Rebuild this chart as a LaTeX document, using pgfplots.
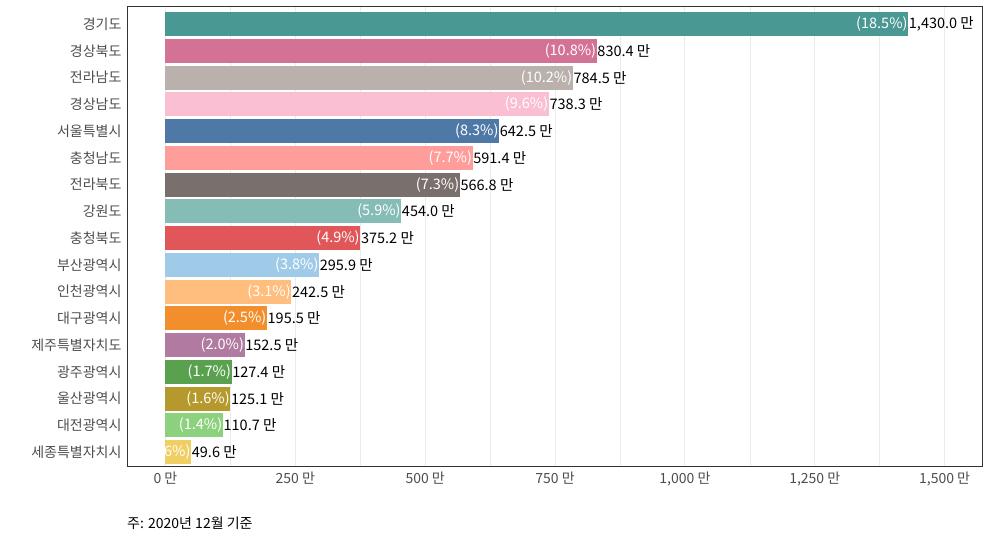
\documentclass[border=0pt]{standalone}
\usepackage{fontspec}
\setmainfont{Noto Sans CJK KR}
\usepackage{pgfplots}
\pgfplotsset{compat=1.18}
\usepackage{pgfplotstable}

\definecolor{c1}{HTML}{499894}
\definecolor{c2}{HTML}{D37295}
\definecolor{c3}{HTML}{BAB0AC}
\definecolor{c4}{HTML}{FABFD2}
\definecolor{c5}{HTML}{4E79A7}
\definecolor{c6}{HTML}{FF9D9A}
\definecolor{c7}{HTML}{79706E}
\definecolor{c8}{HTML}{86BCB6}
\definecolor{c9}{HTML}{E15759}
\definecolor{c10}{HTML}{A0CBE8}
\definecolor{c11}{HTML}{FFBE7D}
\definecolor{c12}{HTML}{F28E2B}
\definecolor{c13}{HTML}{B07AA1}
\definecolor{c14}{HTML}{59A14F}
\definecolor{c15}{HTML}{B6992D}
\definecolor{c16}{HTML}{8CD17D}
\definecolor{c17}{HTML}{F1CE63}
\definecolor{gridc}{HTML}{EBEBEB}
\definecolor{framec}{HTML}{333333}
\definecolor{tickc}{HTML}{4D4D4D}

% population (10k persons) and share (%)
\pgfplotstableread{
idx val pct
0 1430.0 18.5
1 830.4 10.8
2 784.5 10.2
3 738.3 9.6
4 642.5 8.3
5 591.4 7.7
6 566.8 7.3
7 454.0 5.9
8 375.2 4.9
9 295.9 3.8
10 242.5 3.1
11 195.5 2.5
12 152.5 2.0
13 127.4 1.7
14 125.1 1.6
15 110.7 1.4
16 49.6 0.6
}\popdata

\begin{document}
\begin{tikzpicture}[x=1pt,y=1pt]
\path[use as bounding box] (0,0) rectangle (990,540);
\begin{axis}[
    at={(127pt,74pt)}, anchor=south west,
    width=855pt, height=459pt, scale only axis,
    xmin=-74, xmax=1572,
    ymin=-0.64, ymax=16.52,
    y dir=reverse,
    xbar, bar width=0.9,
    every axis plot/.append style={bar shift=0pt},
    ytick={0,...,16},
    yticklabels={경기도,경상북도,전라남도,경상남도,서울특별시,충청남도,전라북도,강원도,충청북도,부산광역시,인천광역시,대구광역시,제주특별자치도,광주광역시,울산광역시,대전광역시,세종특별자치시},
    xtick={0,250,...,1500},
    minor xtick={125,375,...,1375},
    xmajorgrids, xminorgrids,
    major grid style={color=gridc, line width=0.8pt},
    minor grid style={color=gridc, line width=0.5pt},
    major tick length=0pt, minor tick length=0pt,
    axis line style={color=framec, line width=1pt},
    /pgf/number format/assume math mode=true,
    /pgf/number format/1000 sep={,},
    xticklabel={\pgfmathprintnumber{\tick}~만},
    ticklabel style={font=\fontsize{14}{16}\selectfont, text=tickc},
    yticklabel style={xshift=-2pt},
    xticklabel style={yshift=-2pt},
    clip=false,
]
\addplot[fill=c1, draw=none] coordinates {(1430.0,0)};
\addplot[fill=c2, draw=none] coordinates {(830.4,1)};
\addplot[fill=c3, draw=none] coordinates {(784.5,2)};
\addplot[fill=c4, draw=none] coordinates {(738.3,3)};
\addplot[fill=c5, draw=none] coordinates {(642.5,4)};
\addplot[fill=c6, draw=none] coordinates {(591.4,5)};
\addplot[fill=c7, draw=none] coordinates {(566.8,6)};
\addplot[fill=c8, draw=none] coordinates {(454.0,7)};
\addplot[fill=c9, draw=none] coordinates {(375.2,8)};
\addplot[fill=c10, draw=none] coordinates {(295.9,9)};
\addplot[fill=c11, draw=none] coordinates {(242.5,10)};
\addplot[fill=c12, draw=none] coordinates {(195.5,11)};
\addplot[fill=c13, draw=none] coordinates {(152.5,12)};
\addplot[fill=c14, draw=none] coordinates {(127.4,13)};
\addplot[fill=c15, draw=none] coordinates {(125.1,14)};
\addplot[fill=c16, draw=none] coordinates {(110.7,15)};
\addplot[fill=c17, draw=none] coordinates {(49.6,16)};
% value labels
\addplot[draw=none, fill=none, point meta=x,
    nodes near coords={\pgfmathprintnumber[fixed,fixed zerofill,precision=1,1000 sep={,}]{\pgfplotspointmeta}~만},
    nodes near coords align={anchor=west},
    every node near coord/.append style={font=\fontsize{14.5}{16}\selectfont, text=black, inner sep=0.5pt},
] table[x=val, y=idx] {\popdata};
% share labels
\addplot[draw=none, fill=none, point meta=\thisrow{pct},
    nodes near coords={(\pgfmathprintnumber[fixed,fixed zerofill,precision=1]{\pgfplotspointmeta}\%)},
    nodes near coords align={anchor=east},
    every node near coord/.append style={font=\fontsize{14.5}{16}\selectfont, text=white, inner sep=0.5pt},
] table[x=val, y=idx] {\popdata};
\end{axis}
\node[anchor=west, inner sep=0pt, font=\fontsize{14}{16}\selectfont] at (127,17) {주: 2020년 12월 기준};
\end{tikzpicture}
\end{document}
